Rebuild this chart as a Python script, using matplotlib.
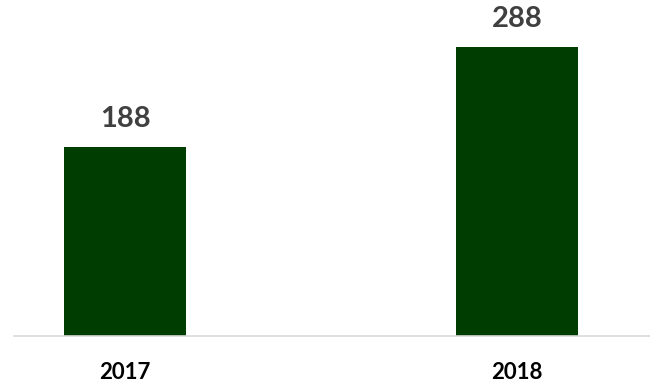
import matplotlib.pyplot as plt

years = ['2017', '2018']
values = [188, 288]

fig = plt.figure(figsize=(6.5, 3.83), dpi=100)
ax = fig.add_axes([14 / 650, 47 / 383, 636 / 650, 336 / 383])

bars = ax.bar(range(len(years)), values, width=0.311, color='#003d00')
ax.set_xlim(-0.283, 1.339)
ax.set_ylim(0, 334.8)

for b, v in zip(bars, values):
    ax.annotate(str(v), (b.get_x() + b.get_width() / 2, v), xytext=(0, 11),
                textcoords='offset points', ha='center', va='bottom',
                fontsize=21, fontweight='bold', color='#404040', family='Lato')

ax.set_xticks(range(len(years)))
ax.set_xticklabels(years, fontsize=16, fontweight='bold', family='Lato', color='black')
ax.tick_params(axis='x', length=0, pad=19)
ax.set_yticks([])
for s in ['top', 'right', 'left']:
    ax.spines[s].set_visible(False)
ax.spines['bottom'].set_color('#d9d9d9')
ax.spines['bottom'].set_linewidth(1.2)

fig.savefig('out.png', dpi=100)
